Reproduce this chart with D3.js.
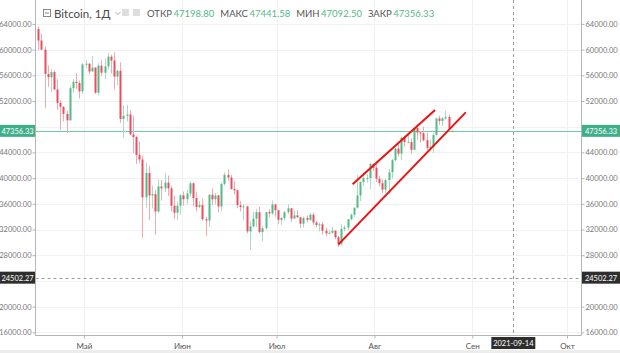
<!DOCTYPE html>
<html><head><meta charset="utf-8">
<script src="https://cdn.jsdelivr.net/npm/d3@7"></script>
<style>
html,body{margin:0;padding:0;background:#fff;}
svg{display:block;font-family:Lato,"Open Sans",sans-serif;}
</style></head>
<body>
<svg id="c" width="620" height="353"></svg>
<script>
// ---------- data ----------
const startDate = "2021-04-16";
const opens  = [63200,61400,60000,56200,55700,56500,53800,51700,51100,50000,49000,54000,55000,54800,53500,
57700,57800,56600,57200,53300,57500,56400,57400,58900,58300,55800,56700,49200,49700,49900,46800,46400,43600,42900,37000,40800,37300,37500,34800,38700,38400,39300,38400,35700,34600,35700,
37300,36700,37600,39200,36900,35500,35800,33600,33400,37400,36700,37300,35600,39100,40500,40100,38300,38100,35800,35500,35600,31700,32500,33700,34700,31600,32200,34700,34500,35900,
35000,33500,33800,34700,35300,33700,34200,33900,32900,33800,33500,34300,33100,32700,32800,31800,31400,31500,31800,30800,29800,32100,32300,33600,34300,35400,37300,39400,40000,40000,42200,
41600,39900,39200,38200,39700,40900,42800,44600,43800,46300,45600,45600,44400,47800,47100,47000,45900,44700,44800,46700,49300,48900,49300,49500,47198.80];
const highs  = [63600,62500,60500,57500,57000,56800,55400,52100,51200,50500,54300,55400,56400,55200,57900,
58400,57900,59000,57200,57900,58400,58600,59500,59200,59600,56900,58000,51300,51400,50600,49700,46600,45700,43500,42400,41900,38800,38200,39800,39700,40800,40400,38800,37200,36400,37500,
37900,38200,39500,39300,37900,36400,36800,34000,37500,38400,37700,37400,39300,40900,41300,40500,39500,38200,36400,36000,35700,33300,34800,35200,35500,32600,34700,35200,36500,36000,
35000,33900,34900,35900,35300,35000,35000,33900,34000,34200,34600,34600,33300,33100,33200,32300,31900,32400,31900,31000,32800,32600,33600,34500,35400,40500,39500,40900,40600,42300,42300,
42600,40400,39800,39900,41400,43000,44700,45300,46500,46600,46700,46200,47900,48100,47400,48000,47100,46000,47000,49300,49700,49500,50500,49900,47441.58];
const lows   = [60000,59900,50900,54200,53400,53700,50600,47500,48800,47000,48900,53300,53900,52400,53100,
57100,56100,56500,53100,52900,55900,55400,56900,56300,53800,54500,48600,46300,48800,46700,43900,42200,42300,30700,35400,33500,35300,31200,34600,36500,37800,37200,34800,33600,33500,34300,
35700,35900,37200,35600,34800,35300,33400,31000,32400,35800,35900,34700,34900,38800,39600,38200,37400,35300,34800,33400,31400,28800,32300,32400,31400,30200,32000,33900,34300,34000,
32800,32700,33400,34400,33200,33600,33800,32200,32300,33100,33300,32700,32300,31700,31200,31000,31200,31300,30500,29300,29500,31700,31900,33400,33900,35300,36400,38800,39300,38300,41100,
39400,38700,37600,37600,37500,39900,42600,43400,42800,44900,45500,43800,44300,46000,45500,45700,44400,44300,43900,46600,48300,48100,49100,47600,47092.50];
const closes = [61400,60000,56200,55700,56500,53800,51700,51100,50000,49000,54000,55000,54800,53500,57700,
57800,56600,57200,53300,57500,56400,57400,58900,58300,55800,56700,49200,49700,49900,46800,46400,43600,42900,37000,40800,37300,37500,34800,38700,38400,39300,38400,35700,34600,35700,37300,
36700,37600,39200,36900,35500,35800,33600,33400,37400,36700,37300,35600,39100,40500,40100,38300,38100,35800,35500,35600,31700,32500,33700,34700,31600,32200,34700,34500,35900,35000,
33500,33800,34700,35300,33700,34200,33900,32900,33800,33500,34300,33100,32700,32800,31800,31400,31500,31800,30800,29800,32100,32300,33600,34300,35400,37300,39400,40000,40000,42200,41600,
39900,39200,38200,39700,40900,42800,44600,43800,46300,45600,45600,44400,47800,47100,47000,45900,44700,44800,46700,49300,48900,49300,49500,47700,47356.33];

const priceTicks = [16000,20000,24000,28000,32000,36000,40000,44000,48000,52000,56000,60000,64000];
const shownTicks = [16000,20000,28000,32000,36000,40000,44000,52000,56000,60000,64000];
const monthTicks = ["2021-05-01","2021-06-01","2021-07-01","2021-08-01","2021-09-01","2021-10-01"];
const monthLabels = ["Май","Июн","Июл","Авг","Сен","Окт"];
const lastPrice = 47356.33;
const crossPrice = 24502.27;
const crossDate = "2021-09-14";
const channelUpper = [["2021-07-25T02:00:00Z",39050],["2021-08-20T05:00:00Z",50600]];
const channelLower = [["2021-07-20T13:00:00Z",29640],["2021-08-29T22:00:00Z",50230]];
const legendTitle = "Bitcoin, 1Д";
const legendKeys = ["ОТКР","МАКС","МИН","ЗАКР"];
const legendVals = ["47198.80","47441.58","47092.50","47356.33"];

// ---------- layout ----------
const W=620,H=353, L=35.5, R=581.5, T=0, B=335.5;
const UP="#53b987", DN="#eb4d5c";
const svg=d3.select("#c");
svg.append("rect").attr("width",W).attr("height",H).attr("fill","#fff");
svg.append("rect").attr("x",0).attr("y",350).attr("width",W).attr("height",3).attr("fill","#ececec");

const parse=d3.utcParse("%Y-%m-%d");
const x=d3.scaleUtc().domain([parse("2021-05-01"),parse("2021-10-01")]).range([84,567]);
const y=d3.scaleLinear().domain([16000,64000]).range([332.3,23.9]);
const day=864e5;
const t0=parse(startDate).getTime();
const candles=closes.map((c,i)=>({d:new Date(t0+i*day+day/2),o:opens[i],h:highs[i],l:lows[i],c:c}));

// grid
const g=svg.append("g");
g.selectAll("line.hg").data(priceTicks).join("line").attr("class","hg")
 .attr("x1",L).attr("x2",R).attr("y1",d=>Math.round(y(d))+.5).attr("y2",d=>Math.round(y(d))+.5)
 .attr("stroke","#f1f1f1");
g.selectAll("line.vg").data(monthTicks).join("line").attr("class","vg")
 .attr("y1",T).attr("y2",B).attr("x1",d=>Math.round(x(parse(d)))+.5).attr("x2",d=>Math.round(x(parse(d)))+.5)
 .attr("stroke","#f1f1f1");

// crosshair
svg.append("line").attr("x1",L).attr("x2",R).attr("y1",Math.round(y(crossPrice))+.5).attr("y2",Math.round(y(crossPrice))+.5)
 .attr("stroke","#9a9a9a").attr("stroke-dasharray","3,3");
svg.append("line").attr("y1",T).attr("y2",B).attr("x1",Math.round(x(parse(crossDate)))+.5).attr("x2",Math.round(x(parse(crossDate)))+.5)
 .attr("stroke","#9a9a9a").attr("stroke-dasharray","3,3");

// last price line
svg.append("rect").attr("x",L).attr("width",R-L).attr("y",Math.round(y(lastPrice))).attr("height",1)
 .attr("fill","#3dbb8a").attr("fill-opacity",0.75);

// candles
const cg=svg.append("g");
cg.selectAll("line").data(candles).join("line")
 .attr("x1",d=>Math.round(x(d.d))+.5).attr("x2",d=>Math.round(x(d.d))+.5)
 .attr("y1",d=>y(d.h)).attr("y2",d=>y(d.l))
 .attr("stroke",d=>d.c>=d.o?"#a9dcc3":"#f3a8b0").attr("stroke-width",1);
cg.selectAll("rect").data(candles).join("rect")
 .attr("x",d=>Math.round(x(d.d))-0.5).attr("width",2)
 .attr("y",d=>y(Math.max(d.o,d.c))).attr("height",d=>Math.max(1,Math.abs(y(d.o)-y(d.c))))
 .attr("fill",d=>d.c>=d.o?UP:DN);

// channel lines
const line=d3.line().x(d=>x(new Date(d[0]))).y(d=>y(d[1]));
[channelUpper,channelLower].forEach(ch=>{
 svg.append("path").attr("d",line(ch)).attr("stroke","#ee1111").attr("stroke-width",2).attr("fill","none");
});

// axes frames
svg.append("line").attr("x1",L).attr("x2",L).attr("y1",T).attr("y2",B).attr("stroke","#b5b5b5");
svg.append("line").attr("x1",R).attr("x2",R).attr("y1",T).attr("y2",B).attr("stroke","#b5b5b5");
svg.append("line").attr("x1",L).attr("x2",R).attr("y1",B).attr("y2",B).attr("stroke","#b5b5b5");

// left/right price axes
const axL=d3.axisLeft(y).tickValues(shownTicks).tickFormat(d3.format(".2f")).tickSize(3).tickSizeOuter(0);
const axR=d3.axisRight(y).tickValues(shownTicks).tickFormat(d3.format(".2f")).tickSize(3).tickSizeOuter(0);
function styleAx(sel){
 sel.select(".domain").remove();
 sel.selectAll("line").attr("stroke","#b5b5b5");
 sel.selectAll("text").attr("fill","#777").attr("font-size","7.5px").attr("font-family","Lato, sans-serif");
}
svg.append("g").attr("transform",`translate(${L},0)`).call(axL).call(styleAx).selectAll("text").attr("x",-4);
svg.append("g").attr("transform",`translate(${R},0)`).call(axR).call(styleAx).selectAll("text").attr("x",4);

// bottom axis
const axB=d3.axisBottom(x).tickValues(monthTicks.map(parse)).tickFormat((d,i)=>monthLabels[i]).tickSize(3).tickSizeOuter(0);
svg.append("g").attr("transform",`translate(0,${B})`).call(axB).call(sel=>{
 sel.select(".domain").remove();
 sel.selectAll("line").attr("stroke","#b5b5b5");
 sel.selectAll("text").attr("fill","#555").attr("font-size","8px").attr("font-family","Lato, sans-serif").attr("dy","0.9em");
});

// price labels
function priceBox(v,bg){
 const yy=y(v);
 [[0,35],[582,38]].forEach(([bx,bw])=>{
  svg.append("rect").attr("x",bx).attr("y",yy-6).attr("width",bw).attr("height",12).attr("fill",bg);
  svg.append("text").attr("x",bx+bw/2).attr("y",yy+3).attr("text-anchor","middle")
   .attr("fill","#fff").attr("font-size","7.5px").attr("font-family","Lato, sans-serif").text(d3.format(".2f")(v));
 });
}
priceBox(lastPrice,"#3faf8a");
priceBox(crossPrice,"#2e2e2e");
// date label
const cx=x(parse(crossDate));
svg.append("rect").attr("x",cx-22).attr("y",337).attr("width",44).attr("height",12).attr("fill","#2e2e2e");
svg.append("text").attr("x",cx).attr("y",346).attr("text-anchor","middle").attr("fill","#fff")
 .attr("font-size","7.5px").attr("font-family","Lato, sans-serif").text(crossDate);

// legend
const lg=svg.append("g").attr("font-family","Lato, sans-serif");
lg.append("rect").attr("x",43.5).attr("y",9.5).attr("width",7).attr("height",7).attr("fill","none").attr("stroke","#888");
lg.append("line").attr("x1",45).attr("x2",49).attr("y1",13).attr("y2",13).attr("stroke","#888");
const tt=lg.append("text").attr("x",54).attr("y",18).attr("font-size","11.5px").attr("fill","#4a4a4a").text(legendTitle);
const tEnd=54+tt.node().getComputedTextLength();
lg.append("path").attr("d",`M${tEnd+5},12 l2.5,2.5 l2.5,-2.5`).attr("stroke","#aaa").attr("fill","none");
lg.append("rect").attr("x",122).attr("y",9).attr("width",7).attr("height",7).attr("fill","#ddd");
lg.append("rect").attr("x",133).attr("y",9).attr("width",7).attr("height",7).attr("fill","#ddd");
let lx=147;
legendKeys.forEach((k,i)=>{
 const t1=lg.append("text").attr("x",lx).attr("y",17).attr("font-size","9.5px").attr("fill","#555").text(k);
 lx+=t1.node().getComputedTextLength()+1.5;
 const t2=lg.append("text").attr("x",lx).attr("y",17).attr("font-size","9.5px").attr("fill",UP).text(legendVals[i]);
 lx+=t2.node().getComputedTextLength()+6;
});
</script>
</body></html>
